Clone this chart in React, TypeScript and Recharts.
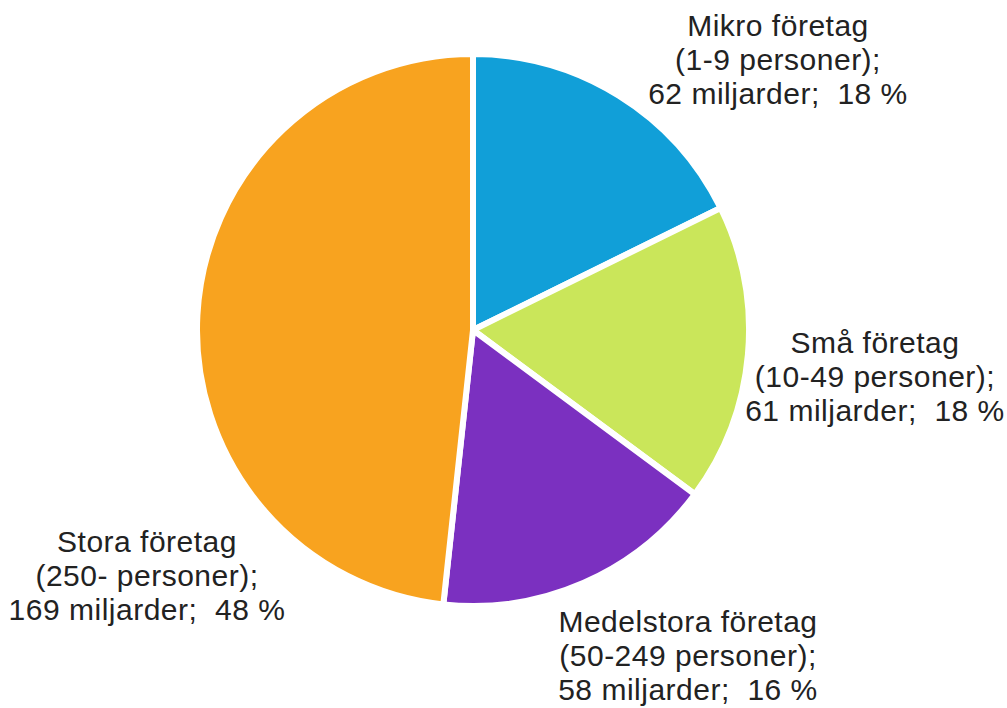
import React from "react";
import { PieChart, Pie, Cell } from "recharts";

const categories = ["Mikro företag", "Små företag", "Medelstora företag", "Stora företag"];
const sizeLabels = ["(1-9 personer);", "(10-49 personer);", "(50-249 personer);", "(250- personer);"];
const values = [62, 61, 58, 169];
const percentLabels = ["18 %", "18 %", "16 %", "48 %"];

const colors = ["#119FD8", "#CAE65A", "#7B30C0", "#F8A31F"];
// label centre offsets relative to pie centre (layout only)
const labelOffsets = [
  { dx: 305, dy: -294 },
  { dx: 402, dy: 23 },
  { dx: 215, dy: 302 },
  { dx: -326, dy: 222 },
];

const data = categories.map((name, i) => ({ name, value: values[i] }));

const renderLabel = (props: any) => {
  const { cx, cy, index } = props;
  const off = labelOffsets[index];
  const x = cx + off.dx;
  const y = cy + off.dy;
  const lines = [
    categories[index],
    sizeLabels[index],
    `${values[index]} miljarder;  ${percentLabels[index]}`,
  ];
  return (
    <text
      key={`lbl-${index}`}
      textAnchor="middle"
      fontFamily="'Liberation Sans', Arial, sans-serif"
      fontSize={30}
      letterSpacing={0.5}
      fill="#222222"
      style={{ whiteSpace: "pre" }}
    >
      {lines.map((l, j) => (
        <tspan key={j} x={x} y={y + j * 34}>
          {l}
        </tspan>
      ))}
    </text>
  );
};

export default function App() {
  return (
    <div style={{ position: "absolute", left: 0, top: 0, width: 1007, height: 708, background: "#fff" }}>
      <PieChart width={1007} height={708}>
        <Pie
          data={data}
          dataKey="value"
          nameKey="name"
          cx={468}
          cy={325}
          outerRadius={276}
          startAngle={90}
          endAngle={-270}
          stroke="#ffffff"
          strokeWidth={6}
          label={renderLabel}
          labelLine={false}
          isAnimationActive={false}
        >
          {data.map((d, i) => (
            <Cell key={d.name} fill={colors[i]} />
          ))}
        </Pie>
      </PieChart>
    </div>
  );
}
